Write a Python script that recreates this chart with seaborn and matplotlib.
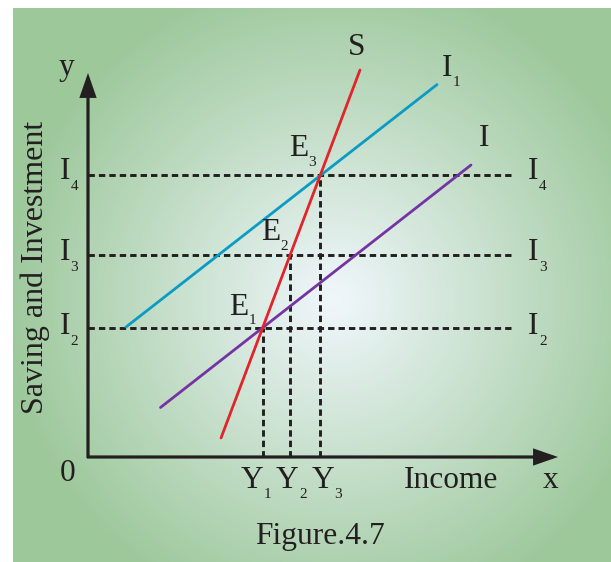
import numpy as np
import matplotlib
matplotlib.use("Agg")
import matplotlib.pyplot as plt
import matplotlib.transforms as mtransforms
import seaborn as sns

# ---------------- data (chart units: income on x, saving/investment on y) ----
income_levels = [17.5, 20.2, 23.2]          # Y1, Y2, Y3
income_labels = ["1", "2", "3"]
invest_levels = [12.9, 20.2, 28.25]         # I2, I3, I4
invest_labels = ["2", "3", "4"]
saving_x = [13.3, 27.2]                     # S curve
saving_y = [1.9, 38.7]
inv1_x = [3.8, 34.9]                        # I1 curve
inv1_y = [13.0, 37.24]
inv_x = [7.25, 38.3]                        # I curve
inv_y = [4.95, 29.2]
dash_end = 42.3
x_axis_end = 47.0
y_axis_end = 38.4

# ---------------- styling ---------------------------------------------------
sns.set_theme(style="white")
plt.rcParams["font.family"] = ["Liberation Serif", "DejaVu Serif"]
plt.rcParams["lines.scale_dashes"] = False

W, H = 611, 562
fig = plt.figure(figsize=(W / 100, H / 100), dpi=100)
fig.patch.set_facecolor("white")
ax = fig.add_axes([0, 0, 1, 1])
ax.set_xlim(-8.8, 52.3)
ax.set_ylim(-10.5, 45.7)
ax.axis("off")

# radial gradient background (pixel space)
xs = np.arange(13, W) + 0.5
ys = np.arange(8, H) + 0.5
X, Y = np.meshgrid(xs, ys)
cx, cy = 335, 300
d = np.sqrt(((X - cx) / 330.0) ** 2 + ((Y - cy) / 330.0) ** 2)
t = np.clip(d, 0, 1) ** 1.0
c0 = np.array([240, 247, 252]) / 255.0
c1 = np.array([157, 200, 155]) / 255.0
img = c0[None, None, :] * (1 - t[..., None]) + c1[None, None, :] * t[..., None]
ax.imshow(img, extent=[(13 - 88) / 10, (W - 88) / 10, (457 - H) / 10, (457 - 8) / 10],
          aspect="auto", zorder=0, interpolation="bilinear")

black = "#231f20"
dash = (0, (4.6, 2.9))

# dashed guides
for lvl in invest_levels:
    ax.plot([0, dash_end], [lvl, lvl], color=black, lw=2.1, linestyle=dash, zorder=2)
for xv, lvl in zip(income_levels, invest_levels):
    ax.plot([xv, xv], [0, lvl], color=black, lw=2.1, linestyle=dash, zorder=2)

# curves
sns.lineplot(x=inv1_x, y=inv1_y, ax=ax, color="#0a9bc4", lw=2.0, sort=False,
             estimator=None, zorder=3)
sns.lineplot(x=inv_x, y=inv_y, ax=ax, color="#7533a3", lw=2.0, sort=False,
             estimator=None, zorder=3)
sns.lineplot(x=saving_x, y=saving_y, ax=ax, color="#e3242b", lw=2.0, sort=False,
             estimator=None, zorder=4)

# axes with arrows
arrow = dict(arrowstyle="-|>,head_length=0.95,head_width=0.33", lw=2.3,
             color=black, shrinkA=0, shrinkB=0, mutation_scale=14,
             joinstyle="miter", capstyle="butt")
ax.annotate("", xy=(x_axis_end, 0), xytext=(-0.1, 0), arrowprops=arrow, zorder=5)
ax.annotate("", xy=(0, y_axis_end), xytext=(0, -0.1), arrowprops=arrow, zorder=5)

# ---------------- labels (pixel positions, top-left origin) ------------------
pix = mtransforms.Affine2D().scale(1 / W, -1 / H).translate(0, 1) + fig.transFigure
BIG, SMALL = 22.6, 11
fig.canvas.draw()
renderer = fig.canvas.get_renderer()


def lab(px, py, s, size=BIG, ha="left", **kw):
    return ax.text(px, py, s, transform=pix, fontsize=size, ha=ha, va="baseline",
                   color=black, zorder=6, **kw)


def sub_lab(px, py, main, sub, drop=10.5, gap=0.5):
    t = lab(px, py, main)
    bb = t.get_window_extent(renderer=renderer)
    lab(bb.x1 + gap, py + drop, sub, size=SMALL)


# left and right investment levels
for b, s in zip([334, 260, 179], invest_labels):
    sub_lab(59.5, b, "I", s, drop=11)
    sub_lab(528, b, "I", s, drop=11)

# income levels
for mx, s in zip([240.5, 276, 311.5], income_labels):
    sub_lab(mx, 488, "Y", s)

# equilibrium points
sub_lab(229, 315, "E", "1", drop=9)
sub_lab(261, 240, "E", "2")
sub_lab(289, 156, "E", "3")

# curve labels
lab(348, 55, "S")
sub_lab(441.5, 76, "I", "1")
lab(479, 146.5, "I")

# axis labels
lab(404, 488, "Income")
lab(543, 488, "x")
lab(67.5, 481, "0", ha="center")
lab(66, 75, "y", ha="center")
ax.text(43, 267.5, "Saving and Investment", transform=pix, fontsize=23,
        rotation=90, rotation_mode="anchor", ha="center", va="baseline",
        color=black, zorder=6)
lab(320, 544, "Figure.4.7", ha="center")

fig.savefig("out.png", dpi=100)
